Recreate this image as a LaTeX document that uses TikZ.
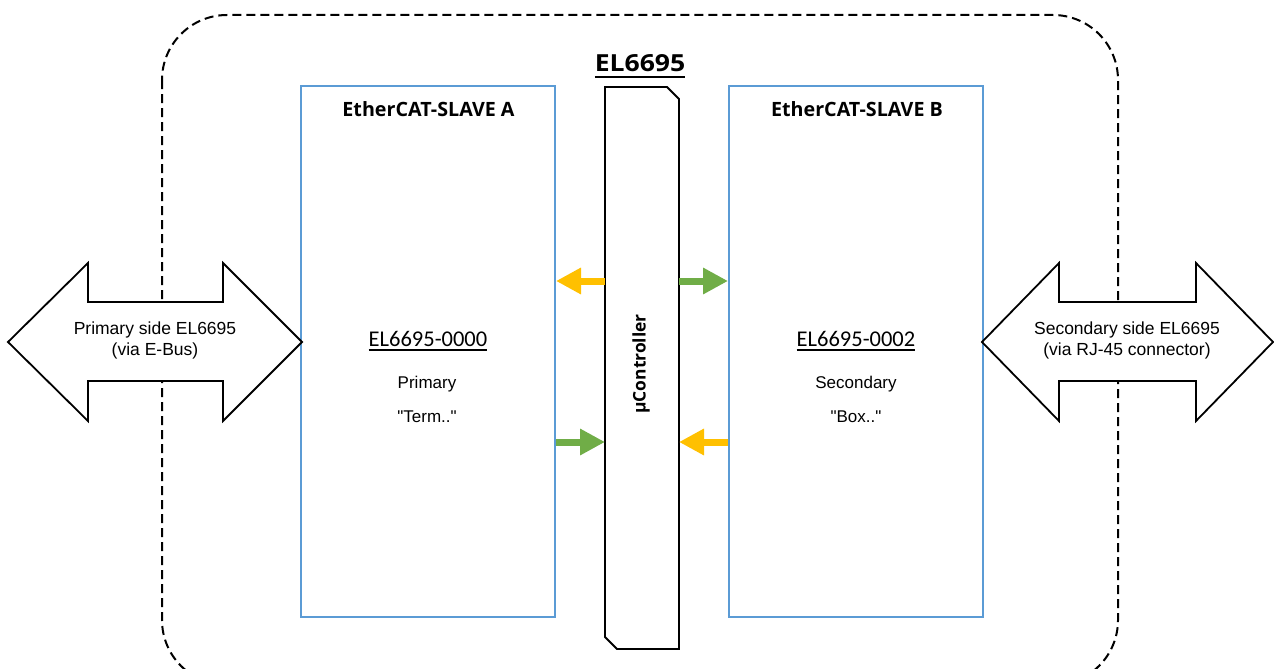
\documentclass[tikz,border=0pt]{standalone}
\usepackage{fontspec}
\setmainfont{Liberation Sans}[Ligatures=TeXOff]
\newfontfamily\osans{Open Sans}
\newfontfamily\carl{Carlito}
\usetikzlibrary{arrows.meta}
\definecolor{slaveblue}{HTML}{5B9BD5}
\definecolor{arrowyellow}{HTML}{FFC000}
\definecolor{arrowgreen}{HTML}{70AD47}
\begin{document}
\begin{tikzpicture}[x=1pt,y=-1pt,
  slavebox/.style={draw=slaveblue,line width=2pt,fill=white,minimum width=254pt,minimum height=531pt,inner sep=0pt},
  bigarrow/.style={draw=black,line width=1.8pt,fill=white,line join=miter},
  plain/.style={inner sep=0pt,outer sep=0pt},
  titletext/.style={plain,anchor=base,font=\osans\bfseries\fontsize{19.7}{24}\selectfont},
  idtext/.style={plain,anchor=base,font=\carl\fontsize{22.5}{27}\selectfont},
  bodytext/.style={plain,anchor=base,font=\fontsize{17}{20}\selectfont},
  sidetext/.style={plain,align=center,font=\fontsize{17.5}{21}\selectfont},
  flowyellow/.style={draw=arrowyellow,line width=7pt,-{Triangle[length=25pt,width=25pt,fill=arrowyellow]}},
  flowgreen/.style={draw=arrowgreen,line width=7pt,-{Triangle[length=25pt,width=25pt,fill=arrowgreen]}}
]
\useasboundingbox (0,0) rectangle (1274,669);
\clip (0,0) rectangle (1274,669);
\fill[white] (0,0) rectangle (1274,669);

% dashed enclosure
\draw[line width=2pt,dash pattern=on 9pt off 5pt,rounded corners=65pt] (162,15) rectangle (1118,685);

% slaves
\node[slavebox] (slaveA) at (428,351.5) {};
\node[slavebox] (slaveB) at (856,351.5) {};

% microcontroller
\node[plain,minimum width=74pt,minimum height=562pt] (uc) at (642,368) {};
\draw[line width=1.8pt,line join=miter] (uc.north west) -- ([xshift=-12pt]uc.north east) -- ([yshift=-12pt]uc.north east) -- (uc.south east) -- ([xshift=12pt]uc.south west) -- ([yshift=12pt]uc.south west) -- cycle;
\node[plain,rotate=90,font=\osans\bfseries\fontsize{17.4}{20}\selectfont] (uctext) at (641,364) {µController};

% title
\node[plain,anchor=base,font=\osans\bfseries\fontsize{23.5}{28}\selectfont] (title) at (640,71) {\scalebox{1.13}[1]{EL6695}};
\draw[line width=2.2pt] ([yshift=-6pt]title.base west) -- ([yshift=-6pt]title.base east);

% slave texts
\node[titletext] (tA) at (428.5,116) {EtherCAT-SLAVE A};
\node[titletext] (tB) at (857,116) {EtherCAT-SLAVE B};
\node[idtext] (idA) at (428,346) {EL6695-0000};
\draw[line width=1.4pt] ([yshift=-4pt]idA.base west) -- ([yshift=-4pt]idA.base east);
\node[idtext] (idB) at (856,346) {EL6695-0002};
\draw[line width=1.4pt] ([yshift=-4pt]idB.base west) -- ([yshift=-4pt]idB.base east);
\node[bodytext] (pA) at (427,388) {Primary};
\node[bodytext] (qA) at (427,422) {"Term.."};
\node[bodytext] (pB) at (856,388) {Secondary};
\node[bodytext] (qB) at (856,422) {"Box.."};

% small arrows
\draw[flowyellow] (uc.west |- 0,281) -- (slaveA.east |- 0,281);
\draw[flowgreen] (uc.east |- 0,281) -- (slaveB.west |- 0,281);
\draw[flowgreen] (slaveA.east |- 0,442) -- (uc.west |- 0,442);
\draw[flowyellow] (slaveB.west |- 0,442) -- (uc.east |- 0,442);

% big double arrows
\draw[bigarrow] (8,342) -- (88,263) -- (88,302) -- (223,302) -- (223,263) -- (302,342) -- (223,421) -- (223,381) -- (88,381) -- (88,421) -- cycle;
\node[sidetext] (leftside) at (155,340) {Primary side EL6695\\(via E-Bus)};
\draw[bigarrow] (982,342) -- (1059,263) -- (1059,302) -- (1196,302) -- (1196,263) -- (1273,342) -- (1196,421) -- (1196,381) -- (1059,381) -- (1059,421) -- cycle;
\node[sidetext] (rightside) at (1127,340) {Secondary side EL6695\\(via RJ-45 connector)};
\end{tikzpicture}
\end{document}
